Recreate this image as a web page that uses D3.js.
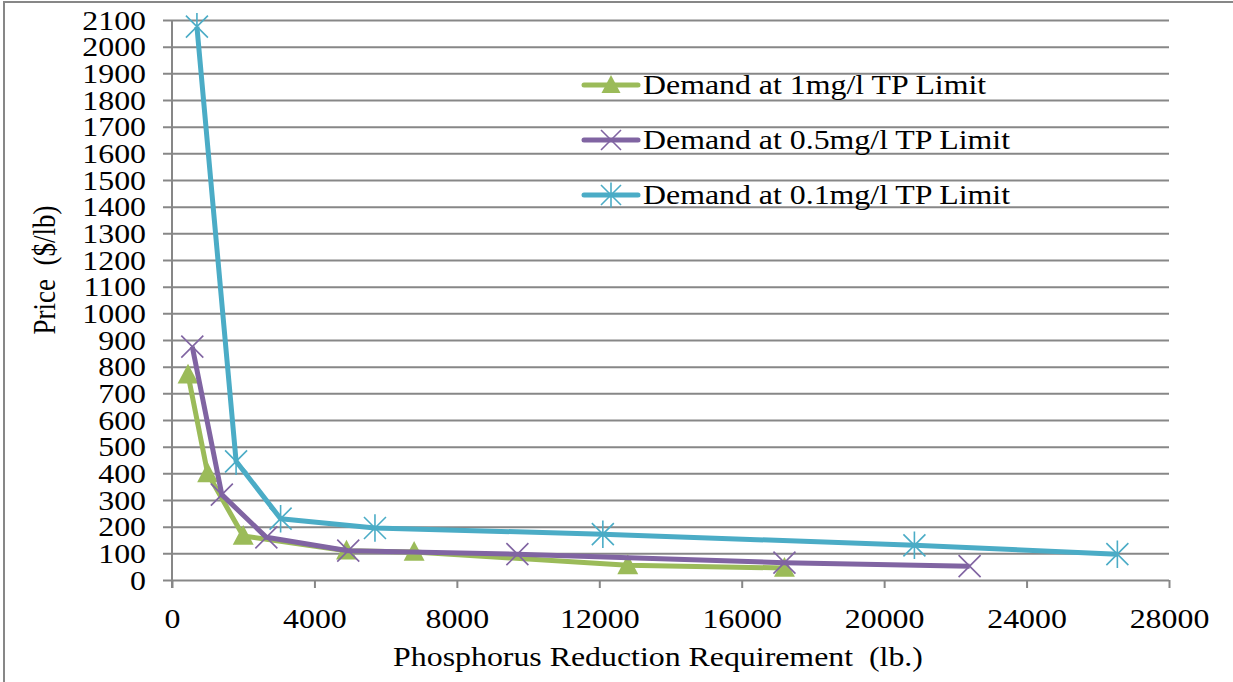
<!DOCTYPE html>
<html>
<head>
<meta charset="utf-8">
<script src="https://cdn.jsdelivr.net/npm/d3@7"></script>
<style>
  html, body { margin: 0; padding: 0; background: #fff; }
  svg { display: block; }
</style>
</head>
<body>
<svg id="chart" width="1233" height="682"></svg>
<script>
// Demand curves for phosphorus reduction under three TP limits
const seriesNames = ["Demand at 1mg/l TP Limit", "Demand at 0.5mg/l TP Limit", "Demand at 0.1mg/l TP Limit"];
const seriesColors = ["#9BBB59", "#8064A2", "#4BACC6"];

const reduction1 = [450, 1000, 2000, 4900, 6800, 12800, 17200];
const price1     = [770, 400, 165, 110, 105, 55, 45];

const reduction05 = [570, 1400, 2650, 4950, 9700, 17200, 22400];
const price05     = [875, 320, 160, 110, 97, 65, 52];

const reduction01 = [700, 1800, 3050, 5700, 12100, 20850, 26550];
const price01     = [2075, 445, 230, 195, 172, 130, 97];

const xTicks = [0, 4000, 8000, 12000, 16000, 20000, 24000, 28000];
const yTicks = d3.range(0, 2101, 100);

const series = [
  { name: seriesNames[0], color: seriesColors[0], marker: "triangle", xs: reduction1, ys: price1 },
  { name: seriesNames[1], color: seriesColors[1], marker: "x", xs: reduction05, ys: price05 },
  { name: seriesNames[2], color: seriesColors[2], marker: "star", xs: reduction01, ys: price01 }
];

const FONT = "'Liberation Serif', 'Times New Roman', serif";
const svg = d3.select("#chart");
const stretch = 1.18;        // horizontal text stretch
const gridColor = "#878787";

const plot = { left: 172, right: 1169, top: 20, bottom: 580 };
const x = d3.scaleLinear().domain([0, 28000]).range([plot.left, plot.right]);
const y = d3.scaleLinear().domain([0, 2100]).range([plot.bottom, plot.top]);

function label(sel, str, size) {
  return sel.append("text")
    .style("font-family", FONT)
    .style("font-size", size + "px")
    .attr("fill", "#000")
    .text(str);
}

// outer frame (top and left edges)
svg.append("line").attr("x1", 3).attr("x2", 1233).attr("y1", 2).attr("y2", 2)
  .attr("stroke", gridColor).attr("stroke-width", 2);
svg.append("line").attr("x1", 4).attr("x2", 4).attr("y1", 2).attr("y2", 682)
  .attr("stroke", gridColor).attr("stroke-width", 2);

// horizontal gridlines with left tick stubs
const yAxis = d3.axisLeft(y).tickValues(yTicks).tickSize(-(plot.right - plot.left)).tickSizeOuter(0).tickFormat("");
const gy = svg.append("g").attr("transform", `translate(${plot.left},0)`).call(yAxis);
gy.select(".domain").remove();
gy.selectAll(".tick line").attr("x1", -9).attr("stroke", gridColor).attr("stroke-width", 2);

// y tick labels
gy.selectAll(".tick").each(function(d) {
  const g = d3.select(this).append("g").attr("transform", `translate(-26,9) scale(${stretch},1)`);
  label(g, d, 27).attr("text-anchor", "end");
});

// x axis with downward ticks
const xAxis = d3.axisBottom(x).tickValues(xTicks).tickSize(8).tickSizeOuter(0).tickFormat("");
const gx = svg.append("g").attr("transform", `translate(0,${plot.bottom})`).call(xAxis);
gx.select(".domain").remove();
gx.selectAll(".tick line").attr("stroke", gridColor).attr("stroke-width", 2);
gx.selectAll(".tick").each(function(d) {
  const g = d3.select(this).append("g").attr("transform", `translate(0,48) scale(${stretch},1)`);
  label(g, d, 27).attr("text-anchor", "middle");
});

// vertical axis line
svg.append("line").attr("x1", plot.left).attr("x2", plot.left)
  .attr("y1", plot.top).attr("y2", plot.bottom + 8)
  .attr("stroke", gridColor).attr("stroke-width", 2);

// axis titles
label(svg.append("g").attr("transform", `translate(658,666) scale(${stretch},1)`),
  "Phosphorus Reduction Requirement\u00a0 (lb.)", 27).attr("text-anchor", "middle");

label(svg.append("g").attr("transform", `translate(55,270) scale(${stretch},1) rotate(-90)`),
  "Price\u00a0 ($/lb)", 27).attr("text-anchor", "middle");

// marker drawing
function drawMarker(g, type, color, size) {
  const s = size;
  if (type === "triangle") {
    g.append("path")
      .attr("d", `M0,${-s} L${s * 0.95},${s * 0.8} L${-s * 0.95},${s * 0.8} Z`)
      .attr("fill", color);
  } else if (type === "x") {
    g.append("path")
      .attr("d", `M${-s},${-s} L${s},${s} M${-s},${s} L${s},${-s}`)
      .attr("stroke", color).attr("stroke-width", 1.6).attr("fill", "none");
  } else {
    g.append("path")
      .attr("d", `M${-s},${-s} L${s},${s} M${-s},${s} L${s},${-s} M0,${-s * 1.25} L0,${s * 1.25}`)
      .attr("stroke", color).attr("stroke-width", 1.6).attr("fill", "none");
  }
}

const line = d3.line().x(d => x(d[0])).y(d => y(d[1]));

series.forEach(s => {
  const pts = s.xs.map((v, i) => [v, s.ys[i]]);
  svg.append("path").datum(pts)
    .attr("d", line)
    .attr("fill", "none")
    .attr("stroke", s.color)
    .attr("stroke-width", 5)
    .attr("stroke-linejoin", "round");
  svg.append("g").selectAll("g").data(pts).join("g")
    .attr("transform", d => `translate(${x(d[0])},${y(d[1])})`)
    .each(function() { drawMarker(d3.select(this), s.marker, s.color, 11); });
});

// legend
const legend = svg.append("g");
series.forEach((s, i) => {
  const cy = 85 + i * 55;
  const g = legend.append("g").attr("transform", `translate(0,${cy})`);
  g.append("line").attr("x1", 584).attr("x2", 638).attr("y1", 0).attr("y2", 0)
    .attr("stroke", s.color).attr("stroke-width", 5).attr("stroke-linecap", "round");
  drawMarker(g.append("g").attr("transform", "translate(611,0)"), s.marker, s.color, 10);
  label(g.append("g").attr("transform", `translate(643,9) scale(${stretch},1)`), s.name, 27);
});
</script>
</body>
</html>
